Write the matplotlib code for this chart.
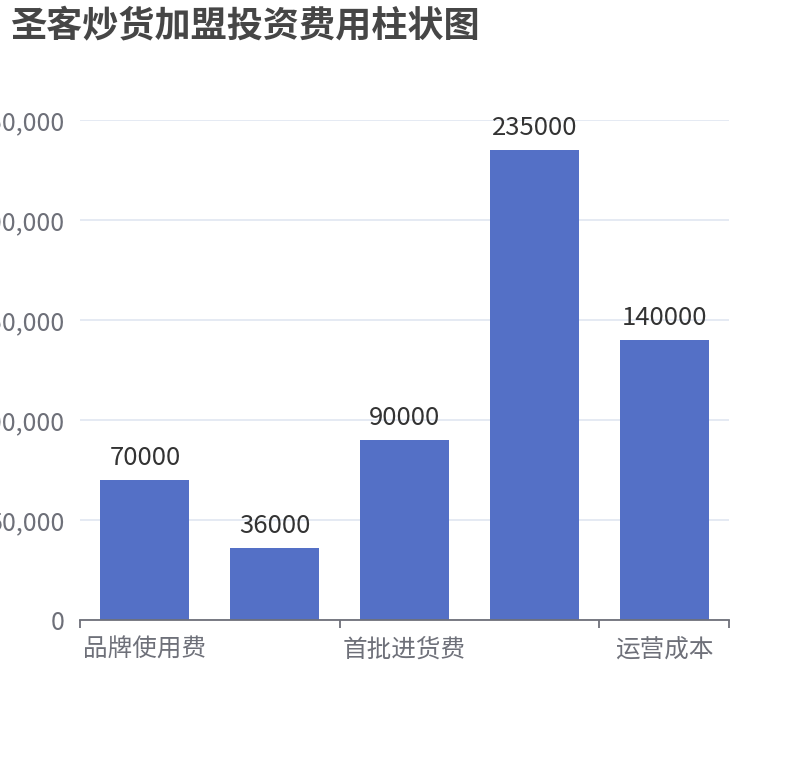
import matplotlib
matplotlib.use("Agg")
import matplotlib.pyplot as plt
from matplotlib.ticker import FuncFormatter

plt.rcParams['font.family'] = ['Noto Sans CJK SC', 'DejaVu Sans']

title = "圣客炒货加盟投资费用柱状图"
shown_labels = ["品牌使用费", "", "首批进货费", "", "运营成本"]
values = [70000, 36000, 90000, 235000, 140000]
y_ticks = [0, 50000, 100000, 150000, 200000, 250000]

W, H = 810, 760
fig = plt.figure(figsize=(W / 100, H / 100), dpi=100)
ax = fig.add_axes([80 / W, 1 - 620 / H, 649 / W, 500 / H])

x = list(range(len(values)))
bars = ax.bar(x, values, width=0.685, color="#5470C6", zorder=3)
for xi, v in zip(x, values):
    ax.annotate(str(v), (xi, v), xytext=(0, 6.5), textcoords="offset points",
                ha="center", va="bottom", fontsize=18.5, color="#333333")

ax.set_xlim(-0.5, len(values) - 0.5)
ax.set_ylim(0, 250000)
ax.set_yticks(y_ticks)
ax.yaxis.set_major_formatter(FuncFormatter(lambda v, p: f"{int(v):,}"))
ax.tick_params(axis="y", length=0, pad=11, labelsize=18, labelcolor="#6E7079")
ax.grid(axis="y", color="#E0E6F1", linewidth=1.2, zorder=0)

# category tick marks at group boundaries, labels at category centers
ax.set_xticks([-0.5, 1.5, 3.5, 4.5])
ax.set_xticklabels([])
ax.tick_params(axis="x", length=6, width=1.3, color="#6E7079")
ax.set_xticks(x, minor=True)
ax.set_xticklabels(shown_labels, minor=True)
ax.tick_params(axis="x", which="minor", length=0, pad=12, labelsize=17.7, labelcolor="#6E7079")

for s in ["top", "right", "left"]:
    ax.spines[s].set_visible(False)
ax.spines["bottom"].set_color("#6E7079")
ax.spines["bottom"].set_linewidth(1.3)
ax.spines["bottom"].set_zorder(4)

fig.text(10 / W, 1 - 26 / H, title, fontsize=26, fontweight="bold",
         color="#464646", ha="left", va="center")

fig.savefig("out.png", dpi=100)
